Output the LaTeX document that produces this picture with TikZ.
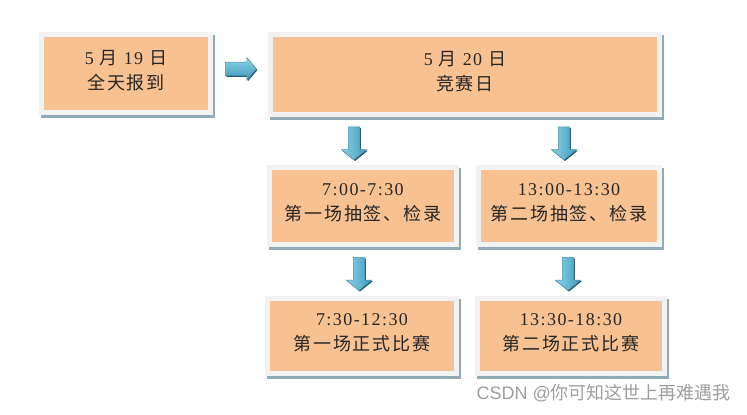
\documentclass[tikz,border=0pt]{standalone}
\usepackage{fontspec}
\setmainfont{Liberation Serif}[LetterSpace=8]
\newfontfamily\cjk{Noto Sans CJK SC}[LetterSpace=10]
\newfontfamily\wmsans{Liberation Sans}
\newfontfamily\wmcjk{Noto Sans CJK SC}
\usepackage{tikz}
\usetikzlibrary{shapes,arrows,positioning,shadows,calc}
\definecolor{boxorange}{RGB}{248,193,146}
\definecolor{framegray}{RGB}{242,242,242}
\definecolor{shadowblue}{RGB}{143,171,181}
\definecolor{arrlight}{RGB}{140,212,232}
\definecolor{arrdark}{RGB}{62,152,186}
\definecolor{arrline}{RGB}{72,145,175}
\definecolor{arrshadow}{RGB}{40,88,108}

\begin{document}
\begin{tikzpicture}[
        x=1pt, y=-1pt,
        box/.style={draw=framegray, fill=boxorange, line width=5pt, align=center, inner sep=0pt, text=black!85, font=\fontsize{18}{25}\selectfont, execute at end node={\rule[-8pt]{0pt}{0pt}}, drop shadow={draw=shadowblue, fill=shadowblue, line width=5pt, opacity=1, shadow xshift=1.5pt, shadow yshift=-2.5pt}},
        blockarr/.style={single arrow, draw=arrline, line width=0.5pt, single arrow head indent=0pt, drop shadow={draw=none, fill=arrshadow, opacity=1, shadow xshift=1pt, shadow yshift=-1.2pt}},
        rightarr/.style={blockarr, top color=arrlight, bottom color=arrdark, inner sep=6.5pt, minimum height=31pt, minimum width=22pt, single arrow head extend=4.5pt, single arrow tip angle=100},
        downarr/.style={blockarr, shape border rotate=270, left color=arrlight, right color=arrdark, inner sep=5.5pt, minimum height=33pt, minimum width=25pt, single arrow head extend=7pt, single arrow tip angle=102},
        wmark/.style={text=black!38, anchor=east, inner sep=0pt}
    ]
        \useasboundingbox[fill=white] (0,0) rectangle (747,415);

        % Days
        \node[box, minimum width=169pt, minimum height=78pt] (eReg) at (126,73.5) {5 {\cjk 月} 19 {\cjk 日}\\{\cjk 全天报到}};
        \node[box, minimum width=389pt, minimum height=80pt] (eDay) at (465,74.5) {5 {\cjk 月} 20 {\cjk 日}\\{\cjk 竞赛日}};

        % Draws
        \node[box, minimum width=187pt, minimum height=77pt] (pDraw1) at (363,206) {7:00-7:30\\{\cjk 第一场抽签、检录}};
        \node[box, minimum width=181pt, minimum height=77pt] (pDraw2) at (569,206) {13:00-13:30\\{\cjk 第二场抽签、检录}};

        % Matches
        \node[box, minimum width=189pt, minimum height=75pt] (pMatch1) at (362,336) {7:30-12:30\\{\cjk 第一场正式比赛}};
        \node[box, minimum width=187pt, minimum height=75pt] (pMatch2) at (571,336) {13:30-18:30\\{\cjk 第二场正式比赛}};

        % Arrows
        \path (eReg) -- (eDay) node[midway, xshift=-2.5pt, yshift=5pt, rightarr] (aReg) {};
        \path (pDraw1.north |- eDay.south) -- (pDraw1.north) node[midway, xshift=-9pt, downarr] (aDraw1) {};
        \path (pDraw2.north |- eDay.south) -- (pDraw2.north) node[midway, xshift=-5pt, downarr] (aDraw2) {};
        \path (pDraw1.south) -- (pMatch1.north) node[midway, xshift=-3.5pt, downarr] (aMatch1) {};
        \path (pDraw2.south) -- (pMatch2.north) node[midway, xshift=-2pt, downarr] (aMatch2) {};

        % Watermark
        \node[wmark] (wm) at (731,393) {\fontsize{18}{20}\selectfont\wmsans CSDN @\wmcjk 你可知这世上再难遇我};
    \end{tikzpicture}
\end{document}
